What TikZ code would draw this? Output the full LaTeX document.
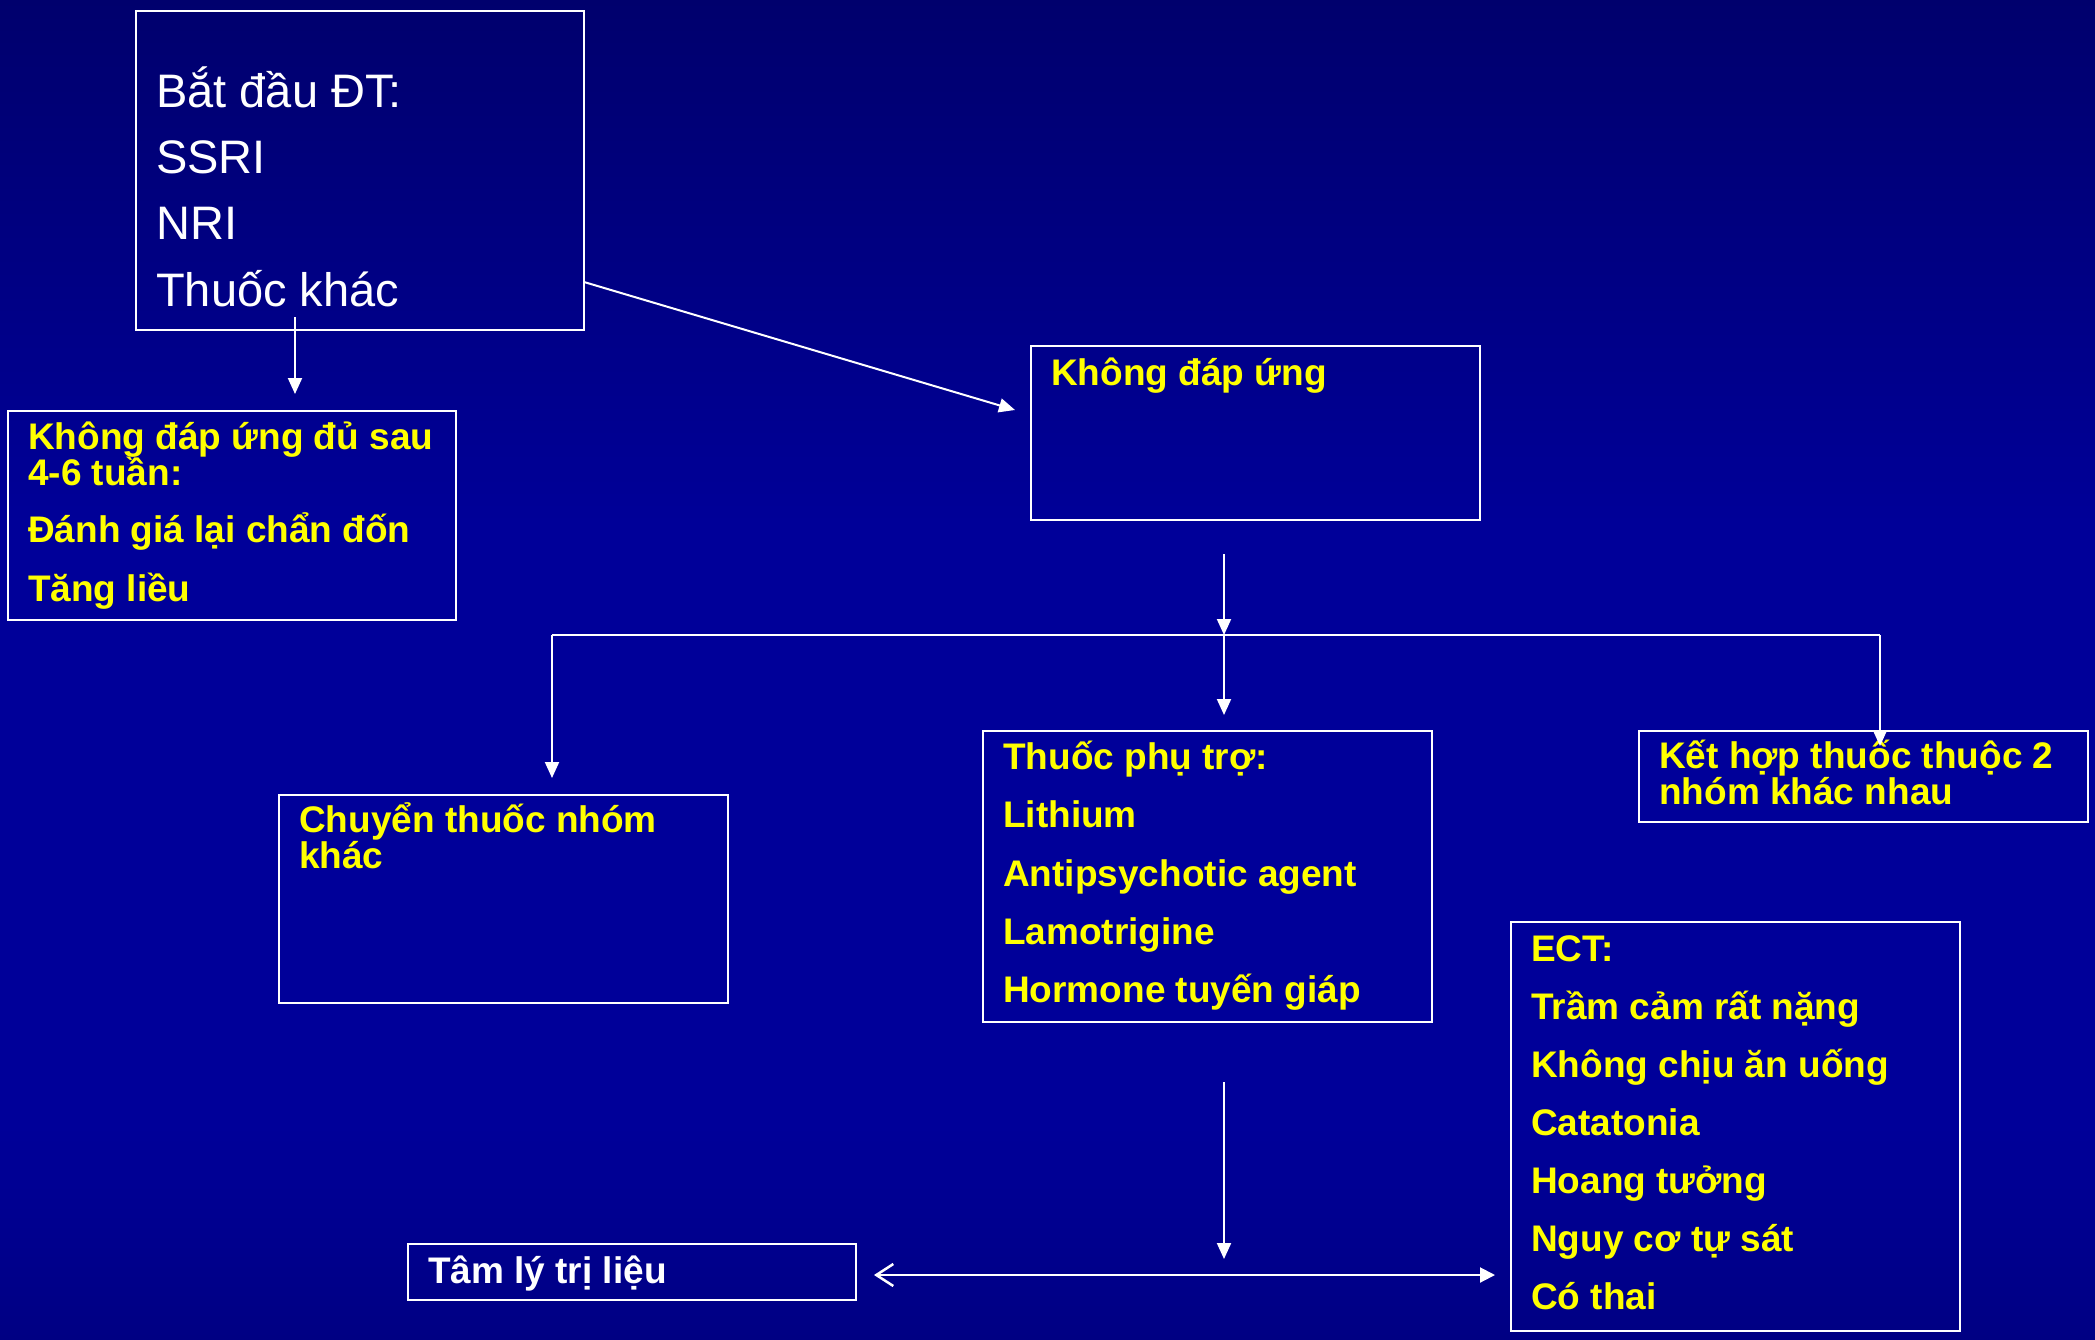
\documentclass[tikz,border=0pt]{standalone}
\usepackage{fontspec}
\setmainfont{Liberation Sans}
\usetikzlibrary{arrows.meta}
\definecolor{ylw}{HTML}{FFFF00}
\definecolor{bgtop}{HTML}{000036}
\definecolor{bgmid}{HTML}{000099}
\definecolor{bgbot}{HTML}{00003E}
\pgfdeclareverticalshading{slidebg}{100bp}{color(0bp)=(bgbot); color(33bp)=(bgmid); color(55bp)=(bgmid); color(100bp)=(bgtop)}
\begin{document}
\begin{tikzpicture}[x=1pt,y=-1pt,
  box/.style={draw=white, line width=2pt, inner sep=0pt, outer sep=0pt, anchor=north west},
  ytxt/.style={text=ylw, font=\fontsize{37}{36}\selectfont\bfseries, anchor=base west, inner sep=0pt},
  wbtxt/.style={text=white, font=\fontsize{37}{36}\selectfont\bfseries, anchor=base west, inner sep=0pt},
  wtxt/.style={text=white, font=\fontsize{47}{55}\selectfont, anchor=base west, inner sep=0pt},
  arr/.style={draw=white, line width=2pt, -{Triangle[length=16pt,width=14pt]}},
  conn/.style={draw=white, line width=2pt}]
\shade[shading=slidebg] (0,0) rectangle (2095,1340);
\useasboundingbox (0,0) rectangle (2095,1340);

% boxes
\node[box, minimum width=448pt, minimum height=319pt] (start) at (136,11) {};
\node[box, minimum width=448pt, minimum height=209pt] (insuf) at (8,411) {};
\node[box, minimum width=449pt, minimum height=174pt] (noresp) at (1031,346) {};
\node[box, minimum width=449pt, minimum height=208pt] (switch) at (279,795) {};
\node[box, minimum width=449pt, minimum height=291pt] (adjunct) at (983,731) {};
\node[box, minimum width=449pt, minimum height=91pt] (combine) at (1639,731) {};
\node[box, minimum width=449pt, minimum height=409pt] (ect) at (1511,922) {};
\node[box, minimum width=448pt, minimum height=56pt] (psych) at (408,1244) {};

% texts
\node[wtxt] (s1) at (156,108) {Bắt đầu ĐT:};
\node[wtxt] (s2) at (156,174) {SSRI};
\node[wtxt] (s3) at (156,240) {NRI};
\node[wtxt] (s4) at (156,306) {Thuốc khác};

\node[ytxt] (i1) at (28,449) {Không đáp ứng đủ sau};
\node[ytxt] (i2) at (28,485) {4-6 tuần:};
\node[ytxt] (i3) at (28,542) {Đánh giá lại chẩn đốn};
\node[ytxt] (i4) at (28,601) {Tăng liều};

\node[ytxt] (n1) at (1051,385) {Không đáp ứng};

\node[ytxt] (w1) at (299,832) {Chuyển thuốc nhóm};
\node[ytxt] (w2) at (299,868) {khác};

\node[ytxt] (a1) at (1003,769) {Thuốc phụ trợ:};
\node[ytxt] (a2) at (1003,827) {Lithium};
\node[ytxt] (a3) at (1003,886) {Antipsychotic agent};
\node[ytxt] (a4) at (1003,944) {Lamotrigine};
\node[ytxt] (a5) at (1003,1002) {Hormone tuyến giáp};

\node[ytxt] (k1) at (1659,768) {Kết hợp thuốc thuộc 2};
\node[ytxt] (k2) at (1659,804) {nhóm khác nhau};

\node[ytxt] (e1) at (1531,961) {ECT:};
\node[ytxt] (e2) at (1531,1019) {Trầm cảm rất nặng};
\node[ytxt] (e3) at (1531,1077) {Không chịu ăn uống};
\node[ytxt] (e4) at (1531,1135) {Catatonia};
\node[ytxt] (e5) at (1531,1193) {Hoang tưởng};
\node[ytxt] (e6) at (1531,1251) {Nguy cơ tự sát};
\node[ytxt] (e7) at (1531,1309) {Có thai};

\node[wbtxt] (p1) at (428,1283) {Tâm lý trị liệu};

% connector end points
\coordinate (c1s) at (295,317);
\coordinate (c1e) at (295,394);
\coordinate (c2s) at (584,282);
\coordinate (c2e) at (1015,410);
\coordinate (c3s) at (1224,554);
\coordinate (jc) at (1224,635);
\coordinate (jl) at (552,635);
\coordinate (jr) at (1880,635);
\coordinate (c4e) at (1224,715);
\coordinate (c5e) at (552,778);
\coordinate (c6e) at (1880,746);
\coordinate (c7s) at (1224,1082);
\coordinate (c7e) at (1224,1259);
\coordinate (c8l) at (874,1275);
\coordinate (c8r) at (1495,1275);

\draw[arr] (c1s) -- (c1e);
\draw[arr] (c2s) -- (c2e);
\draw[arr] (c3s) -- (jc);
\draw[conn] (jl) -- (jr);
\draw[arr] (jc) -- (c4e);
\draw[arr] (jl) -- (c5e);
\draw[arr] (jr) -- (c6e);
\draw[arr] (c7s) -- (c7e);
\draw[draw=white, line width=2pt, {Straight Barb[length=17pt,width=22pt,line width=2.5pt]}-{Triangle[length=15pt,width=15pt]}] (c8l) -- (c8r);
\end{tikzpicture}
\end{document}
